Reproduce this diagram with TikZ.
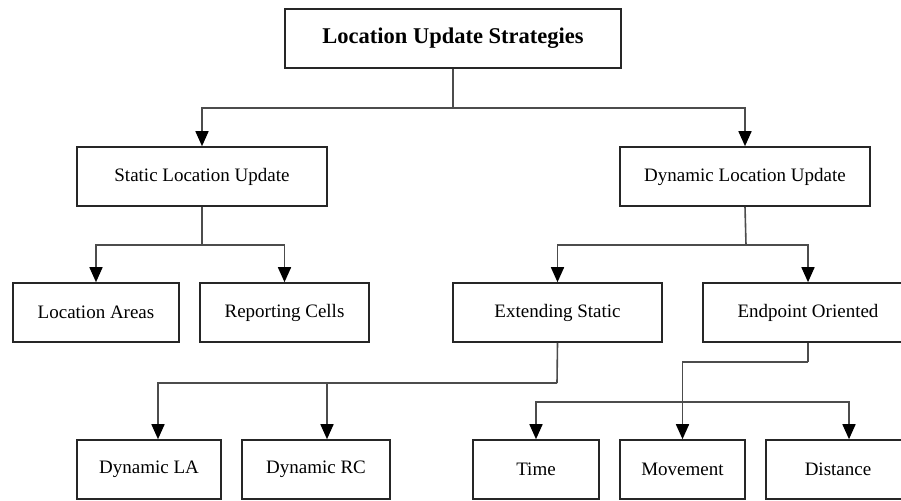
\documentclass[tikz,border=0pt]{standalone}
\usepackage{fontspec}
\setmainfont{Liberation Serif}
\usetikzlibrary{arrows.meta,calc}
\begin{document}
\begin{tikzpicture}[x=1pt,y=-1pt,
  box/.style={draw=black!85,line width=1.6pt,minimum height=59pt,inner sep=0pt,font=\fontsize{19}{22}\selectfont,fill=white},
  conn/.style={draw=black!70,line width=1.6pt},
  arr/.style={conn,-{Triangle[length=15pt,width=13pt,color=black]}}]
\useasboundingbox (0,0) rectangle (901,500);
\clip (0,0) rectangle (901,500);
\node[box,minimum width=336pt,font=\fontsize{22.5}{26}\selectfont\bfseries] (top) at (453,38.5) {Location Update Strategies};
\node[box,minimum width=250pt] (stat) at (202,176.5) {Static Location Update};
\node[box,minimum width=250pt] (dyn) at (745,176.5) {Dynamic Location Update};
\node[box,minimum width=166pt] (la) at (96,312.5) {Location Areas};
\node[box,minimum width=169pt] (rc) at (284.5,312.5) {Reporting Cells};
\node[box,minimum width=209pt] (ext) at (557.5,312.5) {Extending Static};
\node[box,minimum width=210pt] (endp) at (808,312.5) {Endpoint Oriented};
\node[box,minimum width=144pt] (dla) at (149,469.5) {Dynamic LA};
\node[box,minimum width=148pt] (drc) at (316,469.5) {Dynamic RC};
\node[box,minimum width=126pt] (time) at (536,469.5) {Time};
\node[box,minimum width=125pt] (mov) at (682.5,469.5) {Movement};
\node[box,minimum width=144pt] (dist) at (838,469.5) {Distance};
% top level
\coordinate (j0) at (453,108);
\draw[conn] (top.south) -- (j0);
\draw[arr] (j0) -| (stat.north);
\draw[arr] (j0) -| (dyn.north);
% static
\coordinate (j1) at (202,245);
\draw[conn] (stat.south) -- (j1);
\draw[arr] (j1) -| (la.north);
\draw[arr] (j1) -| (rc.north);
% dynamic
\coordinate (j2) at (746,245);
\draw[conn] (dyn.south) -- (j2);
\draw[arr] (j2) -| (ext.north);
\draw[arr] (j2) -| (endp.north);
% extending static
\coordinate (j3) at (557,383);
\draw[conn] (ext.south) -- (j3);
\draw[arr] (j3) -| ([xshift=9pt]dla.north);
\draw[arr] (j3) -| ([xshift=11pt]drc.north);
% endpoint oriented
\coordinate (j4) at (808,362);
\coordinate (j5) at (682,402);
\draw[conn] (endp.south) -- (j4);
\draw[arr] (j4) -| (mov.north);
\draw[arr] (j5) -| (time.north);
\draw[arr] (j5) -| ([xshift=11pt]dist.north);
\end{tikzpicture}
\end{document}
